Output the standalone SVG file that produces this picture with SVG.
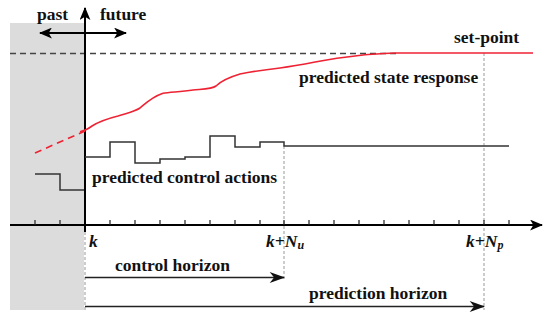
<svg xmlns="http://www.w3.org/2000/svg" width="550" height="320" viewBox="0 0 550 320">
<style>
text{font-family:"Liberation Serif","Times New Roman",serif;font-weight:bold;fill:#111;font-size:17.5px}
.it{font-style:italic}
.axis{stroke:#000;stroke-width:2;fill:none}
.tick{stroke:#222;stroke-width:1.2}
.vdash{stroke:#999;stroke-width:1;stroke-dasharray:3,2;fill:none}
.ctrl{stroke:#333;stroke-width:1.5;fill:none}
.red{stroke:#ee2233;stroke-width:1.6;fill:none}
.harrow{stroke:#222;stroke-width:1.3;fill:none}
</style>
<defs>
<marker id="ah" viewBox="0 0 12 10" refX="11" refY="5" markerWidth="13" markerHeight="11" markerUnits="userSpaceOnUse" orient="auto-start-reverse">
<path d="M0,0 L12,5 L0,10 L3,5 Z" fill="#000"/>
</marker>
<marker id="ah2" viewBox="0 0 14 10" refX="13" refY="5" markerWidth="16" markerHeight="11" markerUnits="userSpaceOnUse" orient="auto">
<path d="M0,0 L14,5 L0,10 L4,5 Z" fill="#111"/>
</marker>
</defs>
<rect width="550" height="320" fill="#fff"/>
<g id="past-region"><rect x="10" y="23" width="74" height="287" fill="#dcdcdc"/></g>
<g id="connectors">
<line class="vdash" x1="85" y1="232" x2="85" y2="310"/>
<line class="vdash" x1="284" y1="146" x2="284" y2="280"/>
<line class="vdash" x1="484" y1="53" x2="484" y2="310"/>
<line x1="10" y1="53.5" x2="400" y2="53.5" stroke="#444" stroke-width="1.3" stroke-dasharray="6,4"/>
<line class="axis" x1="10" y1="225" x2="542" y2="225" marker-end="url(#ah)"/>
<line class="axis" x1="85" y1="232" x2="85" y2="8" marker-end="url(#ah)"/>
<line x1="40" y1="33" x2="126" y2="33" stroke="#000" stroke-width="1.8" marker-start="url(#ah)" marker-end="url(#ah)"/>
<path class="tick" d="M35,225v-5M60,225v-5M110,225v-5M135,225v-5M160,225v-5M185,225v-5M210,225v-5M235,225v-5M260,225v-5M284,225v-5M309,225v-5M334,225v-5M359,225v-5M384,225v-5M409,225v-5M434,225v-5M459,225v-5M484,225v-5M509,225v-5"/>
<line class="harrow" x1="85" y1="277.5" x2="284" y2="277.5" marker-end="url(#ah2)"/>
<line class="harrow" x1="85" y1="306.5" x2="484" y2="306.5" marker-end="url(#ah2)"/>
</g>
<g id="state-response">
<path class="red" stroke-dasharray="7,5" d="M35,153 L85,131"/>
<path class="red" d="M80,131.7 C84,131 88,129 92,126 C100,121 110,118 118,116 C127,113 134,112 140,108 C146,103 152,97 163,93.3 C170,92 180,92 193,90 C203,89 212,89 216,86 C222,80 230,77 240,74 C250,72 262,70 280,68 C295,66 305,64 318,61.5 C330,59 345,57 363,55 C375,54 385,53 395,53 L533,53"/>
</g>
<g id="control-actions">
<path class="ctrl" d="M85,157 H110 V142 H135 V163 H160 V159 H185 V157 H210 V136 H235 V147 H260 V142 H284 V146 H509"/>
<path class="ctrl" stroke="#666" d="M35,174 H60 V190 H84"/>
</g>
<g id="labels">
<text x="37" y="20">past</text>
<text x="100" y="20">future</text>
<text x="454" y="43">set-point</text>
<text x="299" y="83">predicted state response</text>
<text x="92" y="183">predicted control actions</text>
<text class="it" x="89" y="247" font-size="16">k</text>
<text class="it" x="266" y="247" font-size="16">k+N<tspan font-size="12" dy="2">u</tspan></text>
<text class="it" x="466" y="247" font-size="16">k+N<tspan font-size="12" dy="2">p</tspan></text>
<text x="115" y="271">control horizon</text>
<text x="309" y="299">prediction horizon</text>
</g>
</svg>
